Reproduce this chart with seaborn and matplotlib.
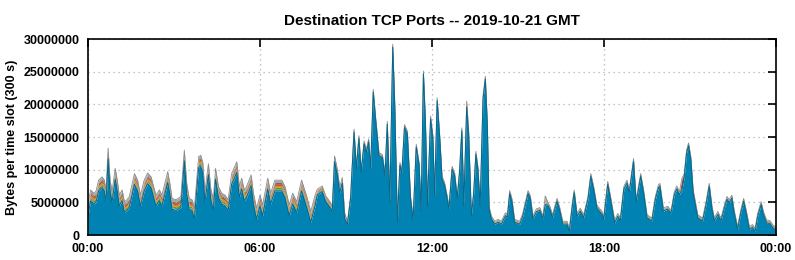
import numpy as np
import pandas as pd
import matplotlib
matplotlib.use("Agg")
import matplotlib.pyplot as plt
import seaborn as sns
from matplotlib.ticker import FuncFormatter, MultipleLocator

# ---- data (hours since 00:00, bytes per 300 s slot, millions) ----
hours = [0.0, 0.09, 0.2, 0.28, 0.37, 0.49, 0.57, 0.63, 0.70, 0.77, 0.84, 0.95, 1.02, 1.09, 1.19,
         1.27, 1.36, 1.44, 1.62, 1.73, 1.83, 1.96, 2.08, 2.20, 2.37, 2.49, 2.58, 2.78, 2.86, 2.93,
         3.07, 3.24, 3.36, 3.44, 3.53, 3.63, 3.71, 3.86, 3.93, 4.0, 4.08, 4.2, 4.28, 4.37, 4.45,
         4.55, 4.66, 4.78, 4.89, 5.01, 5.19, 5.28, 5.36, 5.45, 5.53, 5.69, 5.77, 5.88, 6.0, 6.09,
         6.27, 6.37, 6.52, 6.76, 6.87, 7.02, 7.14, 7.28, 7.45, 7.63, 7.77, 7.92, 8.0, 8.17, 8.29,
         8.47, 8.52, 8.6, 8.7, 8.78, 8.87, 8.95, 9.05, 9.16, 9.28, 9.36, 9.45, 9.53, 9.63, 9.71,
         9.79, 9.86, 9.95, 10.03, 10.15, 10.27, 10.36, 10.44, 10.53, 10.63, 10.7, 10.79, 10.88, 10.95,
         11.04, 11.14, 11.25, 11.34, 11.45, 11.55, 11.62, 11.7, 11.77, 11.84, 11.95, 12.03, 12.09,
         12.18, 12.27, 12.35, 12.44, 12.53, 12.59, 12.7, 12.79, 12.88, 12.96, 13.04, 13.11, 13.21,
         13.28, 13.37, 13.45, 13.53, 13.6, 13.68, 13.78, 13.86, 13.93, 13.99, 14.07, 14.19, 14.3,
         14.42, 14.56, 14.63, 14.71, 14.79, 14.88, 15.06, 15.17, 15.35, 15.43, 15.52, 15.64, 15.76,
         15.87, 15.95, 16.04, 16.12, 16.2, 16.36, 16.45, 16.56, 16.71, 16.79, 16.9, 16.96, 17.06,
         17.17, 17.29, 17.44, 17.54, 17.64, 17.75, 17.93, 17.99, 18.13, 18.22, 18.37, 18.48, 18.57,
         18.69, 18.8, 18.88, 19.03, 19.12, 19.28, 19.38, 19.5, 19.67, 19.79, 19.9, 19.95, 20.07,
         20.22, 20.34, 20.45, 20.54, 20.63, 20.72, 20.8, 20.88, 20.95, 21.03, 21.11, 21.27, 21.44,
         21.56, 21.67, 21.77, 21.85, 21.97, 22.08, 22.2, 22.29, 22.37, 22.46, 22.54, 22.66, 22.77,
         22.87, 22.97, 23.07, 23.18, 23.27, 23.36, 23.48, 23.56, 23.67, 23.79, 23.88, 23.96, 24.0]

total_m = [4.6, 6.9, 6.4, 6.7, 8.4, 8.9, 8.4, 6.7, 13.3, 8.4, 6.7, 10.2, 8.4, 6.1, 6.9,
           5.1, 5.4, 5.9, 9.4, 8.4, 6.1, 8.4, 9.5, 8.9, 6.1, 6.9, 6.1, 9.7, 7.8, 5.6,
           5.4, 5.9, 13.0, 8.0, 5.6, 5.4, 4.1, 12.0, 12.2, 11.2, 6.7, 10.9, 7.2, 5.4, 10.2,
           7.4, 6.4, 6.1, 5.4, 9.4, 11.2, 7.4, 8.7, 6.9, 7.4, 9.2, 6.4, 4.1, 6.1, 4.6,
           8.7, 6.4, 8.4, 8.4, 7.4, 4.6, 6.4, 5.1, 8.4, 5.9, 3.6, 6.1, 7.0, 7.5, 6.0,
           4.9, 4.4, 12.1, 10.0, 7.3, 8.8, 3.4, 2.1, 6.0, 16.2, 10.6, 15.2, 10.0, 14.4, 13.1,
           14.7, 10.6, 22.3, 18.2, 12.6, 12.3, 9.5, 17.4, 5.5, 29.2, 20.3, 2.4, 11.1, 10.0,
           16.9, 15.9, 6.0, 2.7, 13.9, 11.1, 4.0, 25.1, 17.7, 4.9, 18.2, 15.2, 6.5,
           21.0, 15.2, 9.0, 8.0, 6.0, 4.4, 10.5, 9.5, 6.0, 10.0, 16.4, 4.9, 20.5,
           15.7, 3.4, 6.5, 12.8, 10.5, 4.9, 21.3, 24.3, 17.2, 4.4, 2.9, 2.1, 2.4,
           2.1, 3.4, 3.2, 6.8, 5.5, 2.4, 2.1, 3.4, 6.8, 6.0, 2.9, 4.0, 4.2,
           2.9, 6.0, 5.0, 4.3, 3.1, 5.6, 4.3, 2.1, 2.1, 1.0, 5.1, 6.9, 3.3,
           4.1, 3.1, 5.9, 9.4, 7.4, 4.6, 3.6, 2.8, 8.2, 6.1, 2.3, 3.3, 2.6,
           7.4, 8.4, 6.9, 11.7, 5.4, 9.4, 6.9, 3.1, 2.6, 5.9, 7.7, 7.9, 4.1,
           4.4, 3.8, 6.6, 7.5, 6.6, 8.7, 9.4, 13.0, 14.1, 11.9, 6.9, 3.1, 2.6,
           5.1, 7.9, 4.3, 2.6, 3.6, 2.6, 4.6, 5.9, 5.4, 6.1, 3.8, 1.3, 3.8,
           5.6, 3.6, 1.3, 1.6, 1.0, 3.3, 5.1, 3.6, 2.3, 2.2, 1.6, 1.3, 1.3]

# thickness of the thin layers per hour of day (millions), bottom -> top
hour_of_day = list(range(24))
lightblue_m = [0.25] * 8 + [0.2] + [0.15] * 15
green_m     = [0.30] * 8 + [0.15] + [0.08] * 15
orange_m    = [0.30] * 8 + [0.15] + [0.10] * 15
red_m       = [0.25] * 8 + [0.10] + [0.03] * 15
darkgrey_m  = [0.20] * 8 + [0.10] + [0.03] * 15
grey_m      = [0.35] * 8 + [0.15] + [0.05] * 15
red_spikes  = {20.72: 1.3, 13.21: 0.5}
grey_spikes = {15.95: 0.9}

layer_names = ["other", "lightblue", "green", "orange", "red", "darkgrey", "grey"]
layer_colors = ["#0083b3", "#8fb6c9", "#5b9a3c", "#e08a1e", "#c4401a", "#6e6e6e", "#a5a5a5"]

# ---- build stacked layers ----
h = np.array(hours)
tot = np.array(total_m)
idx = np.clip(np.floor(h).astype(int), 0, 23)
thin = {
    "lightblue": np.array(lightblue_m)[idx],
    "green": np.array(green_m)[idx],
    "orange": np.array(orange_m)[idx],
    "red": np.array(red_m)[idx].astype(float),
    "darkgrey": np.array(darkgrey_m)[idx],
    "grey": np.array(grey_m)[idx].astype(float),
}
for t, v in red_spikes.items():
    thin["red"][np.argmin(np.abs(h - t))] += v
for t, v in grey_spikes.items():
    thin["grey"][np.argmin(np.abs(h - t))] += v
extra = sum(thin.values())
other = np.clip(tot - extra, 0.2, None)
layers = [other] + [thin[n] for n in layer_names[1:]]
layers = [l * 1e6 for l in layers]
cum = np.cumsum(np.vstack(layers), axis=0)

df = pd.DataFrame({"hour": h, "top_other": cum[0], "top_all": cum[-1]})

# ---- plot ----
sns.set_style("white")
plt.rcParams["font.family"] = ["Liberation Sans", "DejaVu Sans"]
plt.rcParams["text.color"] = "black"
plt.rcParams["axes.labelcolor"] = "black"
fig = plt.figure(figsize=(7.95, 2.6), dpi=100)
ax = fig.add_axes([88 / 795, 25 / 260, (776 - 88) / 795, (235 - 39) / 260])

ax.stackplot(h, *layers, colors=layer_colors, linewidth=0.0, zorder=2)
sns.lineplot(data=df, x="hour", y="top_all", ax=ax, color="#8a8a8a", lw=0.6, zorder=3)
sns.lineplot(data=df, x="hour", y="top_other", ax=ax, color="#00688f", lw=0.7, zorder=3)

ax.set_xlim(0, 24)
ax.set_ylim(0, 30e6)
ax.xaxis.set_major_locator(MultipleLocator(6))
ax.yaxis.set_major_locator(MultipleLocator(5e6))
ax.xaxis.set_major_formatter(FuncFormatter(lambda v, p: f"{int(v) % 24:02d}:00"))
ax.yaxis.set_major_formatter(FuncFormatter(lambda v, p: f"{int(round(v))}"))
ax.grid(True, color="#b0b0b0", linestyle=(0, (1, 3)), lw=0.9, zorder=1)
ax.set_axisbelow(True)
ax.tick_params(direction="in", length=6, width=1.2, top=True, right=True,
               labelsize=9, colors="black", pad=6)
for lab in ax.get_xticklabels() + ax.get_yticklabels():
    lab.set_fontweight("bold")
for s in ax.spines.values():
    s.set_color("black")
    s.set_linewidth(1.2)
    s.set_zorder(5)
ax.set_xlabel("")
ax.set_ylabel("Bytes per time slot (300 s)", fontsize=9, fontweight="bold", labelpad=4, color="black")
ax.set_title("Destination TCP Ports -- 2019-10-21 GMT", fontsize=11, fontweight="bold",
             pad=10, color="black")

fig.savefig("out.png", dpi=100)
